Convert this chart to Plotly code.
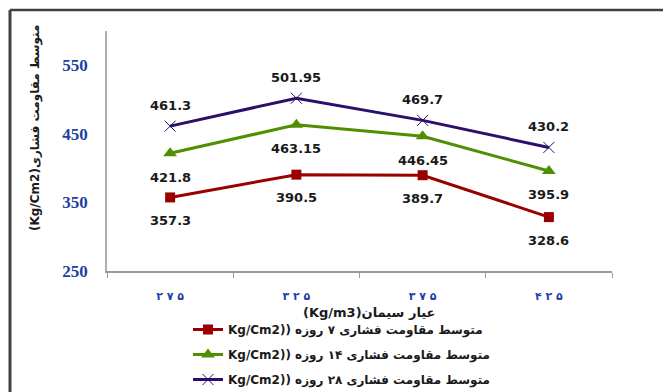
import plotly.graph_objects as go

# Cement content categories (Persian numerals) and mean compressive strengths
categories = ["۲ ۷ ۵", "۳ ۲ ۵", "۳ ۷ ۵", "۴ ۲ ۵"]
strength_7d = [357.3, 390.5, 389.7, 328.6]
strength_14d = [421.8, 463.15, 446.45, 395.9]
strength_28d = [461.3, 501.95, 469.7, 430.2]

series_names = [
    "Kg/Cm2)) متوسط مقاومت فشاری ۷ روزه",
    "Kg/Cm2)) متوسط مقاومت فشاری ۱۴ روزه",
    "Kg/Cm2)) متوسط مقاومت فشاری ۲۸ روزه",
]
y_ticks = [250, 350, 450, 550]

W, H = 663, 392
L, R, T, B = 107, 51, 31, 121
PW, PH = W - L - R, H - T - B


def px_x(p):
    return (p - L) / PW


def px_y(p):
    return (H - B - p) / PH


label_font = dict(family="DejaVu Sans", size=13, color="#1a1a1a")

fig = go.Figure()

fig.add_trace(go.Scatter(
    x=categories, y=strength_7d, name=series_names[0], mode="lines+markers",
    legendgroup="d7",
    line=dict(color="#990000", width=3),
    marker=dict(symbol="square", size=10, color="#990000"),
))
fig.add_trace(go.Scatter(
    x=categories, y=strength_14d, name=series_names[1], mode="lines+markers",
    legendgroup="d14",
    line=dict(color="#4f8f00", width=3),
    marker=dict(symbol="triangle-up", size=12, color="#4f8f00"),
))
fig.add_trace(go.Scatter(
    x=categories, y=strength_28d, name=series_names[2], mode="lines+markers",
    legendgroup="d28",
    line=dict(color="#2b0f6b", width=3),
    marker=dict(symbol="x-thin-open", size=11,
                line=dict(color="#8a70cc", width=1)),
))

annotations = []
# value labels: 7- and 14-day below the points, 28-day above
for vals, shift in ((strength_7d, -23), (strength_14d, -24), (strength_28d, 21)):
    for c, v in zip(categories, vals):
        annotations.append(dict(
            x=c, y=v, xref="x", yref="y", text=f"<b>{v}</b>",
            showarrow=False, yshift=shift, font=label_font,
            xanchor="center", yanchor="middle",
        ))

# axis titles
annotations.append(dict(
    x=px_x(35), y=px_y(128), xref="paper", yref="paper",
    xanchor="center", yanchor="middle",
    text="<b>(Kg/Cm2)متوسط مقاومت فشاری</b>", textangle=-90, showarrow=False,
    font=dict(family="DejaVu Sans", size=12, color="#1a1a1a"),
))
annotations.append(dict(
    x=px_x(369), y=px_y(312), xref="paper", yref="paper",
    xanchor="center", yanchor="middle",
    text="<b>(Kg/m3)عیار سیمان</b>", showarrow=False,
    font=dict(family="DejaVu Sans", size=13, color="#1a1a1a"),
))

shapes = [
    dict(type="line", xref="paper", yref="paper",
         x0=px_x(10), x1=px_x(W + 5), y0=px_y(10), y1=px_y(10),
         line=dict(color="#404040", width=2.5)),
    dict(type="line", xref="paper", yref="paper",
         x0=px_x(10), x1=px_x(10), y0=px_y(10), y1=px_y(H + 5),
         line=dict(color="#404040", width=3)),
]

fig.update_layout(
    width=W, height=H,
    margin=dict(l=L, r=R, t=T, b=B, autoexpand=False),
    paper_bgcolor="white", plot_bgcolor="white",
    showlegend=True,
    legend=dict(
        x=px_x(188), y=px_y(315), xanchor="left", yanchor="top",
        font=dict(family="DejaVu Sans", size=12, color="#1a1a1a", weight="bold"),
        bgcolor="rgba(0,0,0,0)", tracegroupgap=6, itemwidth=30,
    ),
    annotations=annotations,
    shapes=shapes,
)

fig.update_xaxes(
    type="category", range=[-0.5, 3.5], showline=True, linecolor="#9a9a9a",
    linewidth=1.5, showgrid=False, zeroline=False,
    ticks="outside", tickson="boundaries", ticklen=5, tickcolor="#9a9a9a",
    ticklabelstandoff=14,
    tickfont=dict(family="DejaVu Sans", size=11, color="#1f3fa8", weight="bold"),
)
fig.update_yaxes(
    range=[250, 600], tickvals=y_ticks, ticktext=[str(t) for t in y_ticks],
    showline=True, linecolor="#b0b0b0", linewidth=1.5,
    showgrid=False, zeroline=False, ticks="",
    ticklabelstandoff=14,
    tickfont=dict(family="Liberation Serif", size=17, color="#1f3fa0", weight="bold"),
)

fig.write_html("out.html")
